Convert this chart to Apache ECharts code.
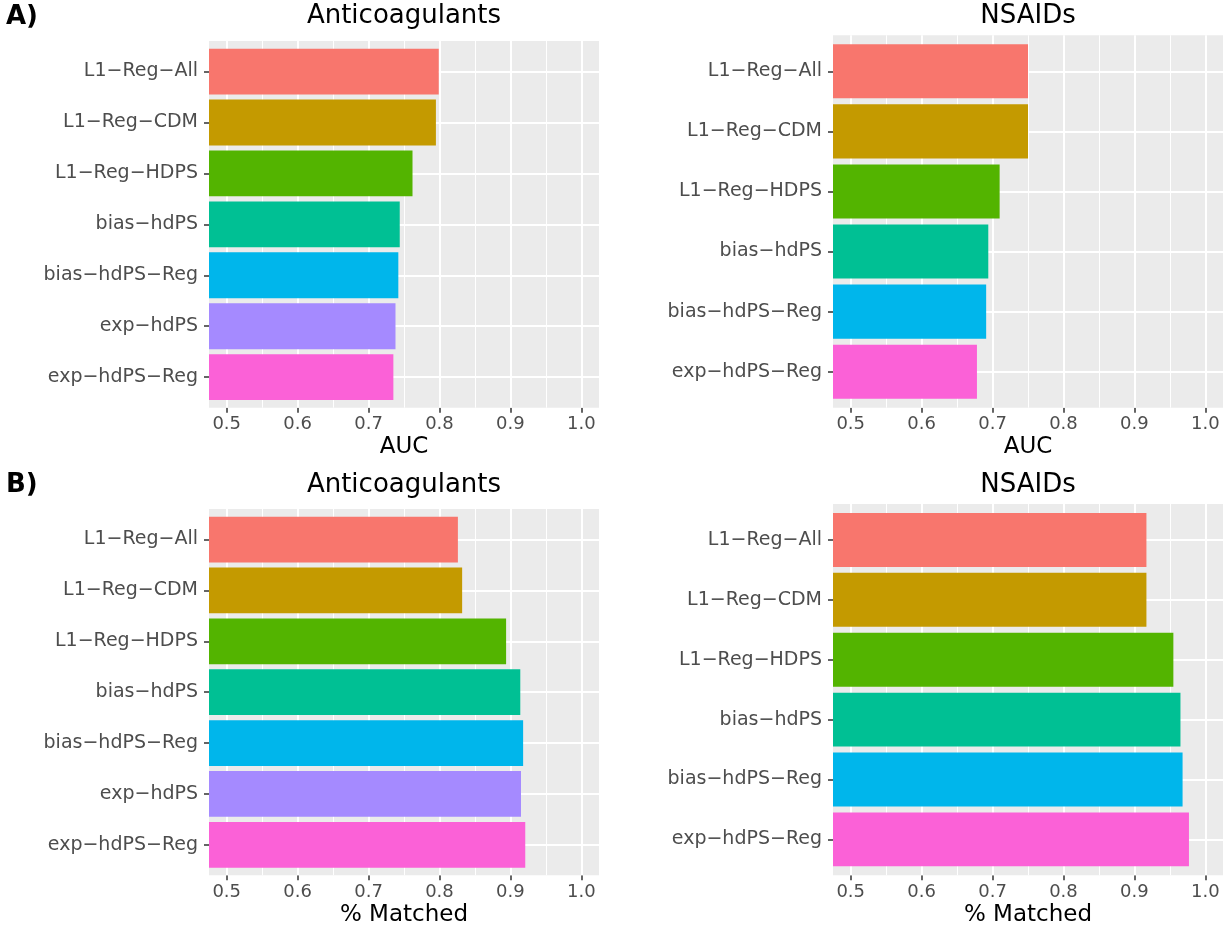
<!DOCTYPE html>
<html><head><meta charset="utf-8">
<script src="https://cdn.jsdelivr.net/npm/echarts@6/dist/echarts.min.js"></script>
<style>html,body{margin:0;padding:0;background:#fff}#c{width:1231px;height:928px}</style>
</head><body><div id="c"></div>
<script>
// ---- data ----
const methods7 = ['L1−Reg−All','L1−Reg−CDM','L1−Reg−HDPS','bias−hdPS','bias−hdPS−Reg','exp−hdPS','exp−hdPS−Reg'];
const methods6 = ['L1−Reg−All','L1−Reg−CDM','L1−Reg−HDPS','bias−hdPS','bias−hdPS−Reg','exp−hdPS−Reg'];
const aucAnticoag   = [0.799, 0.795, 0.762, 0.744, 0.742, 0.738, 0.735];
const aucNsaids     = [0.750, 0.750, 0.710, 0.694, 0.691, 0.678];
const matchAnticoag = [0.826, 0.832, 0.894, 0.914, 0.918, 0.915, 0.921];
const matchNsaids   = [0.917, 0.917, 0.955, 0.965, 0.968, 0.977];
const xMajorTicks = [0.5, 0.6, 0.7, 0.8, 0.9, 1.0];
const xMinorTicks = [0.55, 0.65, 0.75, 0.85, 0.95];
const xMin = 0.475, xMax = 1.025;
const methodColors = {
  'L1−Reg−All':'#F8766D','L1−Reg−CDM':'#C49A00','L1−Reg−HDPS':'#53B400',
  'bias−hdPS':'#00C094','bias−hdPS−Reg':'#00B6EB','exp−hdPS':'#A58AFF','exp−hdPS−Reg':'#FB61D7'
};

// ---- layout ----
const FONT = 'DejaVu Sans';
const panels = [
  {cats: methods7, vals: aucAnticoag,   title: 'Anticoagulants', xName: 'AUC',       box: [209, 41, 390, 366.7], nameY: 447},
  {cats: methods6, vals: aucNsaids,     title: 'NSAIDs',         xName: 'AUC',       box: [833, 35.3, 390, 372.4], nameY: 447},
  {cats: methods7, vals: matchAnticoag, title: 'Anticoagulants', xName: '% Matched', box: [209, 509, 390, 366.3], nameY: 915},
  {cats: methods6, vals: matchNsaids,   title: 'NSAIDs',         xName: '% Matched', box: [833, 504, 390, 371.3], nameY: 915}
];
const titleY = [16.5, 16.5, 485, 485];

const grid = [], xAxis = [], yAxis = [], series = [], graphic = [];
panels.forEach((p, i) => {
  const [L, T, W, H] = p.box;
  const n = p.cats.length;
  const u = H / (n + 0.2);
  const a = 2 * i, b = 2 * i + 1;
  grid.push({left: L, top: T, width: W, height: H, show: true, backgroundColor: '#EBEBEB', borderWidth: 0});
  grid.push({left: L, top: T + 0.6 * u, width: W, height: H - 1.2 * u, show: false});
  xAxis.push({
    gridIndex: a, type: 'value', min: xMin, max: xMax,
    axisLine: {show: true, lineStyle: {opacity: 0}},
    axisTick: {show: true, length: 5, customValues: xMajorTicks, lineStyle: {color: '#333333', width: 1.5}},
    axisLabel: {customValues: xMajorTicks, color: '#4D4D4D', fontSize: 18, fontFamily: FONT, margin: 8,
                formatter: v => Number(v).toFixed(1)},
    splitLine: {show: false}
  });
  xAxis.push({gridIndex: b, type: 'value', min: xMin, max: xMax, startValue: xMin, show: false, splitLine: {show: false}});
  yAxis.push({gridIndex: a, type: 'value', min: 0, max: 1, show: false, splitLine: {show: false}});
  yAxis.push({
    gridIndex: b, type: 'category', data: p.cats, inverse: true, boundaryGap: false,
    axisLine: {show: true, lineStyle: {opacity: 0}},
    axisTick: {show: true, length: 5, lineStyle: {color: '#333333', width: 1.5}},
    axisLabel: {interval: 0, color: '#4D4D4D', fontSize: 19, fontFamily: FONT, margin: 11},
    splitLine: {show: true, lineStyle: {color: '#FFFFFF', width: 2}}
  });
  series.push({
    type: 'line', xAxisIndex: a, yAxisIndex: a, data: [], silent: true, z: 1,
    markLine: {
      silent: true, symbol: 'none', animation: false, z: 1,
      label: {show: false},
      data: xMajorTicks.map(v => ({xAxis: v, lineStyle: {color: '#FFFFFF', width: 2, type: 'solid'}}))
        .concat(xMinorTicks.map(v => ({xAxis: v, lineStyle: {color: '#FFFFFF', width: 1, type: 'solid'}})))
    }
  });
  series.push({
    type: 'bar', xAxisIndex: b, yAxisIndex: b, z: 10, clip: false, barWidth: '90%',
    data: p.vals.map((v, j) => ({value: v, itemStyle: {color: methodColors[p.cats[j]]}}))
  });
  graphic.push({type: 'text', x: L + W / 2, y: titleY[i],
    style: {text: p.title, font: '26px "' + FONT + '"', fill: '#000', textAlign: 'center', textVerticalAlign: 'middle'}});
  graphic.push({type: 'text', x: L + W / 2, y: p.nameY,
    style: {text: p.xName, font: '23px "' + FONT + '"', fill: '#000', textAlign: 'center', textVerticalAlign: 'middle'}});
});
graphic.push({type: 'text', x: 6, y: 17, style: {text: 'A)', font: 'bold 26px "' + FONT + '"', fill: '#000', textAlign: 'left', textVerticalAlign: 'middle'}});
graphic.push({type: 'text', x: 6, y: 485, style: {text: 'B)', font: 'bold 26px "' + FONT + '"', fill: '#000', textAlign: 'left', textVerticalAlign: 'middle'}});

const chart = echarts.init(document.getElementById('c'), null, {renderer: 'canvas'});
chart.setOption({animation: false, backgroundColor: '#FFFFFF', grid, xAxis, yAxis, series, graphic});
</script></body></html>
